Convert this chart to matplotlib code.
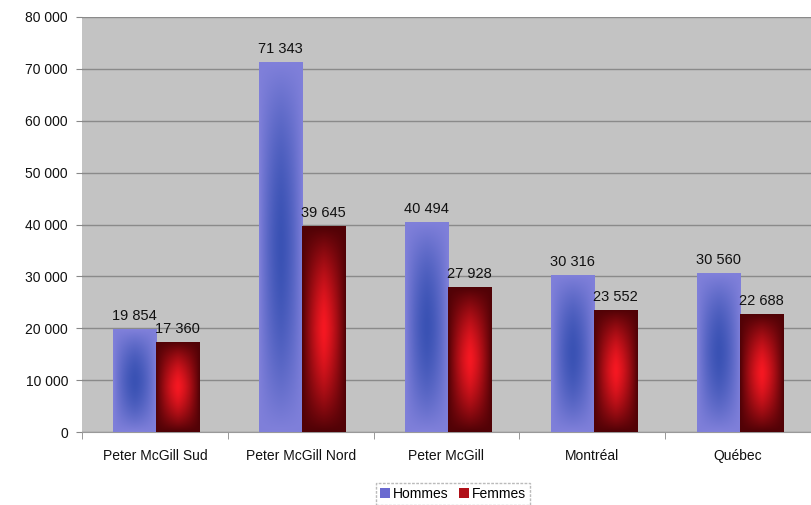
import numpy as np
import matplotlib
matplotlib.use("Agg")
import matplotlib.pyplot as plt
from matplotlib.ticker import FuncFormatter, FixedLocator

plt.rcParams['font.family'] = ['Liberation Sans', 'DejaVu Sans']

categories = ["Peter McGill Sud", "Peter McGill Nord", "Peter McGill", "Montréal", "Québec"]
hommes = [19854, 71343, 40494, 30316, 30560]
femmes = [17360, 39645, 27928, 23552, 22688]
series_names = ["Hommes", "Femmes"]
y_ticks = [0, 10000, 20000, 30000, 40000, 50000, 60000, 70000, 80000]

fig = plt.figure(figsize=(8.11, 5.05), dpi=100)
ax = fig.add_axes([82/811, (505-432)/505, (811-82)/811, (432-17)/505])
ax.set_facecolor("#c3c3c3")

x = np.arange(len(categories))
w = 0.295

def grad_img(c_center, c_edge, px, py, n=80):
    u = np.linspace(-1, 1, n)
    X, Y = np.meshgrid(u, u)
    t = 1 - (1 - np.abs(X) ** px) * (1 - np.abs(Y) ** py)
    t = np.clip(t, 0, 1)
    c0 = np.array(matplotlib.colors.to_rgb(c_center))
    c1 = np.array(matplotlib.colors.to_rgb(c_edge))
    return c0[None, None, :] * (1 - t[..., None]) + c1[None, None, :] * t[..., None]

blue_img = grad_img("#3a52b4", "#8080da", 1.6, 1.8)
red_img = grad_img("#f61822", "#500206", 1.4, 1.6)

b1 = ax.bar(x - w/2 + 0.01, hommes, w, color="#6a6ad0", zorder=2, label=series_names[0])
b2 = ax.bar(x + w/2 + 0.01, femmes, w, color="#b01018", zorder=2, label=series_names[1])

for bars, img in ((b1, blue_img), (b2, red_img)):
    for r in bars:
        x0, y0 = r.get_x(), r.get_y()
        im = ax.imshow(img, extent=[x0, x0 + r.get_width(), y0, y0 + r.get_height()],
                       aspect='auto', zorder=3, interpolation='bilinear')
        im.set_clip_path(r)

for bars, vals in ((b1, hommes), (b2, femmes)):
    for r, v in zip(bars, vals):
        ax.text(r.get_x() + r.get_width()/2, v + 1200, f"{v:,}".replace(",", " "),
                ha='center', va='bottom', fontsize=10.5, color="#111111", zorder=4)

ax.set_xlim(-0.5, len(categories) - 0.5)
ax.set_ylim(0, 80000)
ax.yaxis.set_major_locator(FixedLocator(y_ticks))
ax.yaxis.set_major_formatter(FuncFormatter(lambda v, p: f"{int(v):,}".replace(",", " ")))
ax.grid(axis='y', color="#8a8a8a", linewidth=1.0, zorder=1)
ax.set_axisbelow(True)
ax.set_xticks(x)
ax.set_xticklabels(categories, fontsize=10, color="#111111")
ax.set_xticks(np.arange(len(categories) + 1) - 0.5, minor=True)
ax.tick_params(axis='x', which='major', length=0, pad=12)
ax.tick_params(axis='x', which='minor', length=5, color="#888888")
ax.tick_params(axis='y', length=4, color="#888888", labelsize=10, pad=6, labelcolor="#111111")
for s in ("top", "right", "left"):
    ax.spines[s].set_visible(False)
ax.spines["bottom"].set_color("#999999")

leg = fig.legend(handles=[b1, b2], labels=series_names, loc='center',
                 bbox_to_anchor=(453/811, (505-494)/505), ncol=2, fontsize=10,
                 frameon=True, fancybox=False, handlelength=0.7, handleheight=0.7,
                 handletextpad=0.2, columnspacing=0.8, borderpad=0.3)
leg.get_frame().set_edgecolor("#aaaaaa")
leg.get_frame().set_linestyle((0, (2, 1)))

fig.savefig("out.png", dpi=100)
